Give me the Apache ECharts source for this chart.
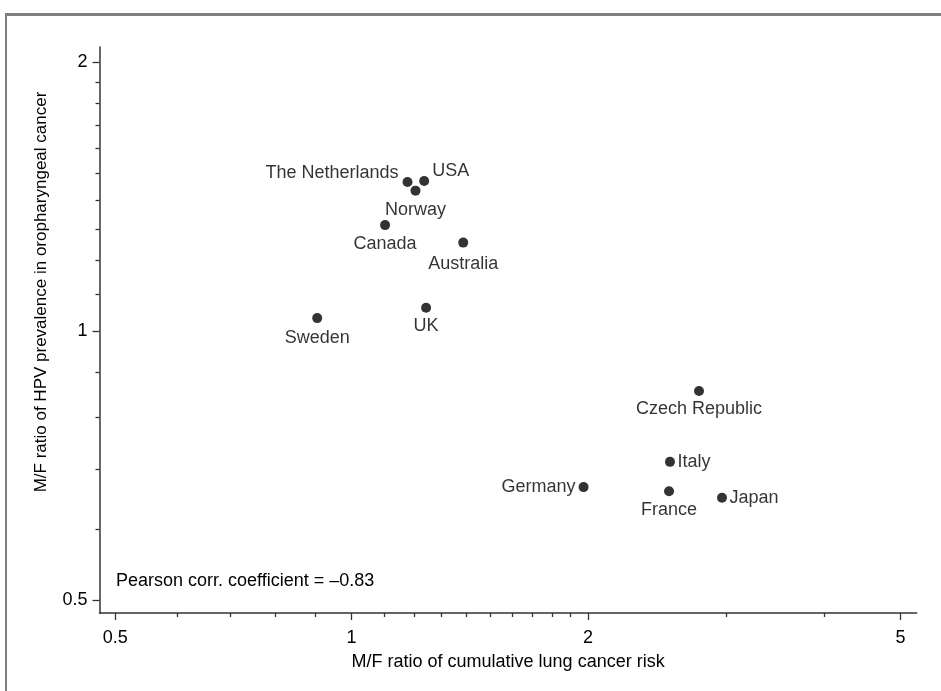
<!DOCTYPE html>
<html>
<head>
<meta charset="utf-8">
<script src="https://cdn.jsdelivr.net/npm/echarts@6/dist/echarts.min.js"></script>
<style>
  html, body { margin: 0; padding: 0; background: #ffffff; }
  #chart { width: 941px; height: 691px; }
</style>
</head>
<body>
<div id="chart"></div>
<script>
// ---- Data ----
const countries = ['The Netherlands', 'USA', 'Norway', 'Canada', 'Australia', 'UK', 'Sweden',
                   'Czech Republic', 'Italy', 'Germany', 'France', 'Japan'];
const lungRiskRatio = [1.178, 1.237, 1.206, 1.103, 1.387, 1.244, 0.904, 2.769, 2.543, 1.974, 2.536, 2.962];
const hpvRatio      = [1.468, 1.472, 1.436, 1.314, 1.256, 1.062, 1.034, 0.857, 0.714, 0.669, 0.662, 0.651];
const xTickLabels = [0.5, 1, 2, 5];
const xMinorTicks = [0.6, 0.7, 0.8, 0.9, 1.1, 1.2, 1.3, 1.4, 1.5, 1.6, 1.7, 1.8, 1.9, 3, 4];
const yTickLabels = [0.5, 1, 2];
const yMinorTicks = [0.6, 0.7, 0.8, 0.9, 1.1, 1.2, 1.3, 1.4, 1.5, 1.6, 1.7, 1.8, 1.9];
const xAxisTitle = 'M/F ratio of cumulative lung cancer risk';
const yAxisTitle = 'M/F ratio of HPV prevalence in oropharyngeal cancer';
const annotation = 'Pearson corr. coefficient = \u20130.83';

// ---- Styling (label placement per country) ----
const labelPlacement = {
  'The Netherlands': { position: 'left', distance: 4, offset: [0, -9] },
  'USA':             { position: 'right', distance: 3, offset: [0, -10] },
  'Norway':          { position: 'bottom', distance: 5 },
  'Canada':          { position: 'bottom', distance: 4.5 },
  'Australia':       { position: 'bottom', distance: 7 },
  'UK':              { position: 'bottom', distance: 4 },
  'Sweden':          { position: 'bottom', distance: 5.5 },
  'Czech Republic':  { position: 'bottom', distance: 4.5 },
  'Italy':           { position: 'right', distance: 2.5 },
  'Germany':         { position: 'left', distance: 3 },
  'France':          { position: 'bottom', distance: 4.5 },
  'Japan':           { position: 'right', distance: 2.5 }
};

const FONT = '"Liberation Sans", Arial, sans-serif';
const AXIS_COLOR = '#333333';
const xMin = 0.4775, xMax = 5.242;
const yMin = 0.4837, yMax = 2.079;

const seriesData = countries.map((c, i) => ({
  name: c,
  value: [lungRiskRatio[i], hpvRatio[i]],
  label: Object.assign({ show: true, formatter: '{b}' }, labelPlacement[c])
}));

const chart = echarts.init(document.getElementById('chart'), null, { renderer: 'canvas' });

chart.setOption({
  animation: false,
  backgroundColor: '#ffffff',
  grid: { left: 99.5, right: 24.3, top: 47, bottom: 78, containLabel: false },
  xAxis: [
    {
      type: 'log', min: xMin, max: xMax, position: 'bottom',
      name: xAxisTitle, nameLocation: 'middle', nameGap: 40,
      nameTextStyle: { fontFamily: FONT, fontSize: 18, color: '#000' },
      axisLine: { show: true, onZero: false, lineStyle: { color: AXIS_COLOR, width: 1.5 } },
      axisTick: { show: true, length: 7, customValues: xTickLabels, lineStyle: { color: AXIS_COLOR, width: 1.3 } },
      axisLabel: { show: true, customValues: xTickLabels, margin: 16, fontFamily: FONT, fontSize: 18, color: '#000' },
      splitLine: { show: false }, minorTick: { show: false }
    },
    {
      type: 'log', min: xMin, max: xMax, position: 'bottom',
      axisLine: { show: false, onZero: false },
      axisTick: { show: true, length: 4, customValues: xMinorTicks, lineStyle: { color: AXIS_COLOR, width: 1.3 } },
      axisLabel: { show: false },
      splitLine: { show: false }
    }
  ],
  yAxis: [
    {
      type: 'log', min: yMin, max: yMax, position: 'left',
      name: yAxisTitle, nameLocation: 'middle', nameGap: 50, nameRotate: 90,
      nameTextStyle: { fontFamily: FONT, fontSize: 17, color: '#000', padding: [0, 0, 0, 76] },
      axisLine: { show: true, onZero: false, lineStyle: { color: AXIS_COLOR, width: 1.5 } },
      axisTick: { show: true, length: 7, customValues: yTickLabels, lineStyle: { color: AXIS_COLOR, width: 1.3 } },
      axisLabel: { show: true, customValues: yTickLabels, margin: 12, fontFamily: FONT, fontSize: 18, color: '#000' },
      splitLine: { show: false }, minorTick: { show: false }
    },
    {
      type: 'log', min: yMin, max: yMax, position: 'left',
      axisLine: { show: false, onZero: false },
      axisTick: { show: true, length: 4, customValues: yMinorTicks, lineStyle: { color: AXIS_COLOR, width: 1.3 } },
      axisLabel: { show: false },
      splitLine: { show: false }
    }
  ],
  series: [{
    type: 'scatter',
    xAxisIndex: 0, yAxisIndex: 0,
    symbol: 'circle', symbolSize: 10,
    itemStyle: { color: '#000000' },
    label: { fontFamily: FONT, fontSize: 18, color: '#000' },
    emphasis: { disabled: true },
    data: seriesData
  }],
  graphic: [
    { type: 'rect', shape: { x: 5, y: 13, width: 936, height: 3 }, style: { fill: '#7f7f7f' }, silent: true },
    { type: 'rect', shape: { x: 5, y: 13, width: 2, height: 678 }, style: { fill: '#7f7f7f' }, silent: true },
    { type: 'text', left: 116, top: 572,
      style: { text: annotation, fontFamily: FONT, fontSize: 18, fill: '#000' }, silent: true }
  ]
});
</script>
</body>
</html>
